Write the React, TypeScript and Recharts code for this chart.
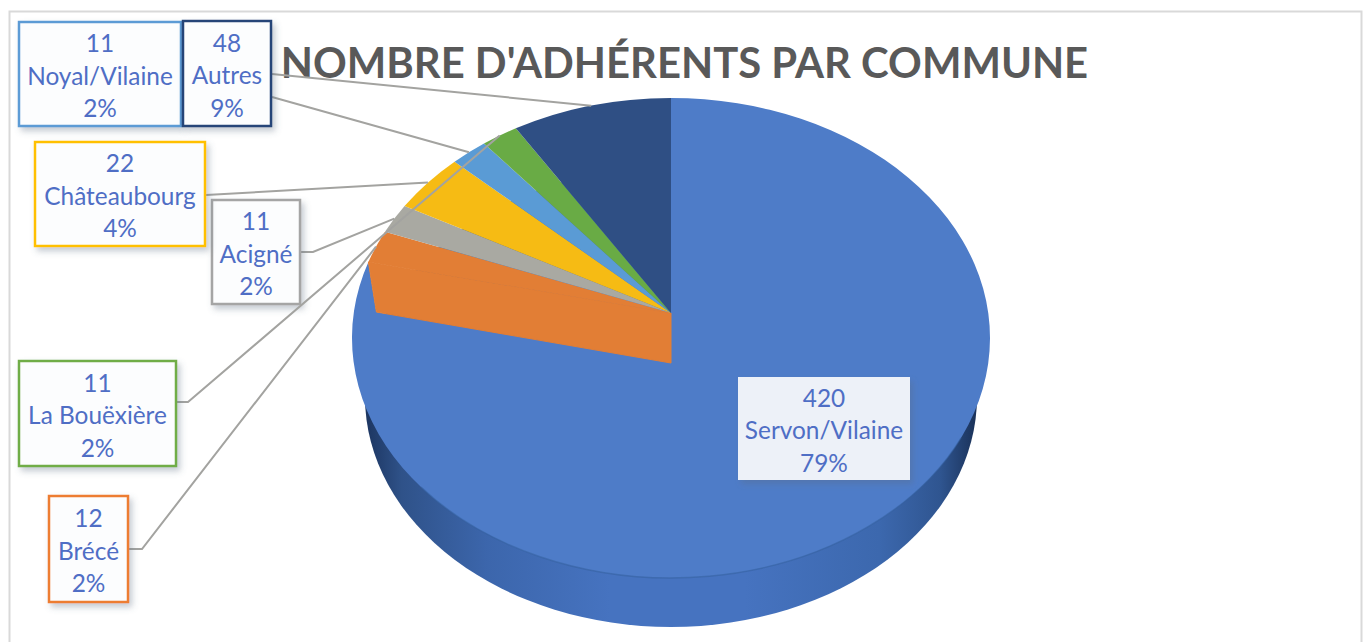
import React from 'react';
import { PieChart, Pie } from 'recharts';

const communes = ['Servon/Vilaine', 'Brécé', 'Acigné', 'Châteaubourg', 'Noyal/Vilaine', 'La Bouëxière', 'Autres'];
const adherents = [420, 12, 11, 22, 11, 11, 48];
const sliceColors = ['#4E7CC8', '#E27E35', '#A9A9A2', '#F6BB14', '#5A9BD5', '#69AB45', '#2F4F84'];
const borderColors = ['none', '#ED7D31', '#A5A5A5', '#FFC000', '#5B9BD5', '#70AD47', '#264478'];
const title = "NOMBRE D'ADHÉRENTS PAR COMMUNE";

// label-box layout: [x, y, w, h]; a leader leaves the box's right edge at the given height
const boxes = [
  [738, 377, 172, 103],
  [49, 496, 79, 106],
  [212, 200, 88, 104],
  [35, 142, 170, 104],
  [19, 22, 162, 104],
  [19, 361, 157, 105],
  [183, 21, 88, 105],
];
const leaderStart: (number[] | null)[] = [
  null,
  [129, 549, 142, 549],
  [301, 252, 313, 252],
  [206, 195, 206, 195],
  [272, 97, 272, 97],
  [176, 402, 188, 402],
  [272, 74, 272, 74],
];

const data = communes.map((name, i) => ({ name, value: adherents[i] }));
const total = adherents.reduce((a, b) => a + b, 0);

const RX = 319;
const RY = 240;
const APEX_UP = 25; // vanishing offset of the small slices' apex above the ellipse centre
const WALL = 50;
// the pie's lower face, seen under the top face
const BASE_RX = 306;
const BASE_RY = 230;
const BASE_DROP = 59;
const FONT = 'Lato, "Open Sans", sans-serif';
const RAD = Math.PI / 180;

// Ray from the perspective apex through the given pie angle, cut with the ellipse.
function rim(cx: number, cy: number, angle: number) {
  const a = -APEX_UP * (RX / RY);
  const dx = Math.cos(angle * RAD);
  const dy = -Math.sin(angle * RAD);
  const b = a * dy;
  const t = -b + Math.sqrt(b * b - (a * a - RX * RX));
  return { x: cx + t * dx, y: cy + (a + t * dy) * (RY / RX) };
}

function Slice(props: any) {
  const { cx, cy, startAngle, endAngle, index } = props;
  const fill = sliceColors[index];
  const p0 = rim(cx, cy, startAngle);
  const p1 = rim(cx, cy, endAngle);
  const apexY = cy - APEX_UP;
  if (index === 0) {
    return (
      <g>
        <defs>
          <linearGradient id="rimGrad" x1="0" x2="1" y1="0" y2="0">
            <stop offset="0" stopColor="#1C3560" />
            <stop offset="0.06" stopColor="#2F5289" />
            <stop offset="0.2" stopColor="#3C66AC" />
            <stop offset="0.4" stopColor="#4673C0" />
            <stop offset="0.62" stopColor="#4673C0" />
            <stop offset="0.84" stopColor="#3C68AE" />
            <stop offset="0.94" stopColor="#2F5590" />
            <stop offset="1" stopColor="#1A3158" />
          </linearGradient>
        </defs>
        <ellipse cx={cx} cy={cy + BASE_DROP} rx={BASE_RX} ry={BASE_RY} fill="url(#rimGrad)" />
        <path
          d={`M${p0.x} ${p0.y}A${RX} ${RY} 0 1 1 ${p1.x} ${p1.y}L${p1.x + 8} ${p1.y + WALL}L${cx} ${apexY + WALL}Z`}
          fill={fill}
        />
        <path
          d={`M${cx - 250} ${cy + 149}A${RX} ${RY} 0 0 0 ${cx + 290} ${cy + 100}`}
          fill="none"
          stroke="#34609F"
          strokeOpacity={0.55}
          strokeWidth={1.4}
        />
      </g>
    );
  }
  return (
    <g>
      {index === 1 && (
        <path
          d={`M${p0.x} ${p0.y}L${cx} ${apexY}L${cx} ${apexY + WALL}L${p0.x + 8} ${p0.y + WALL}Z`}
          fill={fill}
          stroke={fill}
          strokeWidth={1}
        />
      )}
      <path d={`M${cx} ${apexY}L${p0.x} ${p0.y}A${RX} ${RY} 0 0 1 ${p1.x} ${p1.y}Z`} fill={fill} />
    </g>
  );
}

function Leader(props: any) {
  const { index, cx, cy, midAngle } = props;
  const start = leaderStart[index];
  if (!start) return <g />;
  const end = rim(cx, cy, midAngle);
  return (
    <polyline
      points={`${start[0]},${start[1]} ${start[2]},${start[3]} ${end.x},${end.y}`}
      fill="none"
      stroke="#A3A3A0"
      strokeWidth={2}
    />
  );
}

function BoxLabel(props: any) {
  const { index } = props;
  const [x, y, w, h] = boxes[index];
  const mid = x + w / 2;
  const lines = [String(adherents[index]), communes[index], `${Math.round((adherents[index] / total) * 100)}%`];
  const servon = index === 0;
  return (
    <g>
      <rect
        x={x}
        y={y}
        width={w}
        height={h}
        fill={servon ? '#EDF1F8' : '#FCFDFE'}
        stroke={borderColors[index]}
        strokeWidth={2.5}
        filter="url(#boxShadow)"
      />
      {lines.map((t, i) => (
        <text
          key={i}
          x={mid}
          y={y + h / 2 + (i - 1) * 32.5 + 1}
          textAnchor="middle"
          dominantBaseline="central"
          fontFamily={FONT}
          fontSize={24.4}
          fill="#4F6EC5"
        >
          {t}
        </text>
      ))}
    </g>
  );
}

export default function App() {
  return (
    <div style={{ position: 'absolute', left: 0, top: 0, width: 1367, height: 642, overflow: 'hidden', background: '#fff' }}>
      <PieChart width={1367} height={642} margin={{ top: 0, right: 0, bottom: 0, left: 0 }}>
        <defs>
          <filter id="boxShadow" x="-15%" y="-15%" width="135%" height="135%">
            <feDropShadow dx="3" dy="4" stdDeviation="3" floodColor="#5A6A80" floodOpacity="0.35" />
          </filter>
        </defs>
        <rect x={9.5} y={11.5} width={1352} height={660} fill="none" stroke="#D9D9D9" strokeWidth={2} />
        <text
          x={684.5}
          y={62}
          textAnchor="middle"
          dominantBaseline="central"
          fontFamily={FONT}
          fontWeight={700}
          fontSize={41.8}
          fill="#595959"
        >
          {title}
        </text>
        <Pie
          data={data}
          dataKey="value"
          nameKey="name"
          cx={671}
          cy={338}
          outerRadius={RX}
          startAngle={90}
          endAngle={-270}
          stroke="none"
          shape={Slice}
          label={BoxLabel}
          labelLine={Leader}
          isAnimationActive={false}
        />
      </PieChart>
    </div>
  );
}
